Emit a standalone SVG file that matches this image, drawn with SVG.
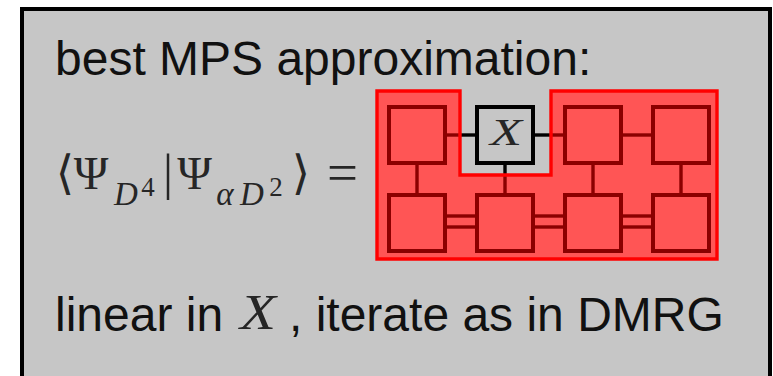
<svg xmlns="http://www.w3.org/2000/svg" width="773" height="376" viewBox="0 0 773 376">
<style>
.txt{font-family:"Liberation Sans",Arial,sans-serif;font-size:48px;fill:#111}
.m{font-family:"Liberation Serif","DejaVu Serif",serif;fill:#262626}
.mi{font-family:"Liberation Serif","DejaVu Serif",serif;font-style:italic;font-weight:normal;fill:#262626}
.br{font-family:"DejaVu Sans","DejaVu Serif",sans-serif;fill:#262626}
.sq{fill:#ff5555;stroke:#8b0000;stroke-width:4}
.sqx{fill:#c6c6c6;stroke:#000;stroke-width:4}
.cr{stroke:#8b0000;stroke-width:3.4;fill:none}
.cb{stroke:#000;stroke-width:3.4;fill:none}
</style>
<rect x="0" y="0" width="773" height="376" fill="#fff"/>
<rect id="panel" x="22" y="9" width="748" height="380" fill="#c6c6c6" stroke="#000" stroke-width="4"/>
<text id="title" class="txt" x="55" y="75">best MPS approximation:</text>
<g id="formula">
<text class="br" x="65" y="189" font-size="47" text-anchor="middle">⟨</text>
<text class="m" x="91" y="189" font-size="47" text-anchor="middle">Ψ</text>
<text class="mi" x="126" y="205" font-size="33" text-anchor="middle">D</text>
<text class="m" x="148" y="196" font-size="27" text-anchor="middle">4</text>
<text class="m" x="168" y="189" font-size="50" text-anchor="middle">|</text>
<text class="m" x="194.5" y="189" font-size="47" text-anchor="middle">Ψ</text>
<text class="mi" x="225" y="205" font-size="33" text-anchor="middle">α</text>
<text class="mi" x="252" y="205" font-size="33" text-anchor="middle">D</text>
<text class="m" x="276" y="196" font-size="27" text-anchor="middle">2</text>
<text class="br" x="301" y="189" font-size="47" text-anchor="middle">⟩</text>
<text class="m" x="342.5" y="191" font-size="54" text-anchor="middle" textLength="31" lengthAdjust="spacingAndGlyphs">=</text>
</g>
<path id="region-fill" d="M377,91 H460 V175 H551 V91 H717 V259 H377 Z" fill="#ff5555"/>
<g id="connectors">
<line class="cr" x1="447" y1="135" x2="460" y2="135"/>
<line class="cb" x1="460" y1="135" x2="475" y2="135"/>
<line class="cb" x1="535" y1="135" x2="551" y2="135"/>
<line class="cr" x1="551" y1="135" x2="563" y2="135"/>
<line class="cr" x1="623" y1="135" x2="651" y2="135"/>
<line class="cr" x1="417" y1="165" x2="417" y2="193"/>
<line class="cb" x1="505" y1="165" x2="505" y2="175"/>
<line class="cr" x1="505" y1="175" x2="505" y2="193"/>
<line class="cr" x1="593" y1="165" x2="593" y2="193"/>
<line class="cr" x1="681" y1="165" x2="681" y2="193"/>
<line class="cr" x1="447" y1="216" x2="475" y2="216"/>
<line class="cr" x1="447" y1="227" x2="475" y2="227"/>
<line class="cr" x1="535" y1="216" x2="563" y2="216"/>
<line class="cr" x1="535" y1="227" x2="563" y2="227"/>
<line class="cr" x1="623" y1="216" x2="651" y2="216"/>
<line class="cr" x1="623" y1="227" x2="651" y2="227"/>
</g>
<g id="t1"><rect class="sq" x="389" y="107" width="56" height="56"/></g>
<g id="tX"><rect class="sqx" x="477" y="107" width="56" height="56"/><text class="mi" x="506" y="145" font-size="38" text-anchor="middle" textLength="32" lengthAdjust="spacingAndGlyphs" fill="#333">X</text></g>
<g id="t3"><rect class="sq" x="565" y="107" width="56" height="56"/></g>
<g id="t4"><rect class="sq" x="653" y="107" width="56" height="56"/></g>
<g id="b1"><rect class="sq" x="389" y="195" width="56" height="56"/></g>
<g id="b2"><rect class="sq" x="477" y="195" width="56" height="56"/></g>
<g id="b3"><rect class="sq" x="565" y="195" width="56" height="56"/></g>
<g id="b4"><rect class="sq" x="653" y="195" width="56" height="56"/></g>
<path id="region-outline" d="M377,91 H460 V175 H551 V91 H717 V259 H377 Z" fill="none" stroke="#ff0000" stroke-width="3.4"/>
<g id="footer">
<text class="txt" x="55" y="331">linear in</text>
<text class="mi" x="258" y="329" font-size="50" text-anchor="middle" textLength="36" lengthAdjust="spacingAndGlyphs" fill="#4a4a4a">X</text>
<text class="txt" x="289" y="331">, iterate as in DMRG</text>
</g>
</svg>
